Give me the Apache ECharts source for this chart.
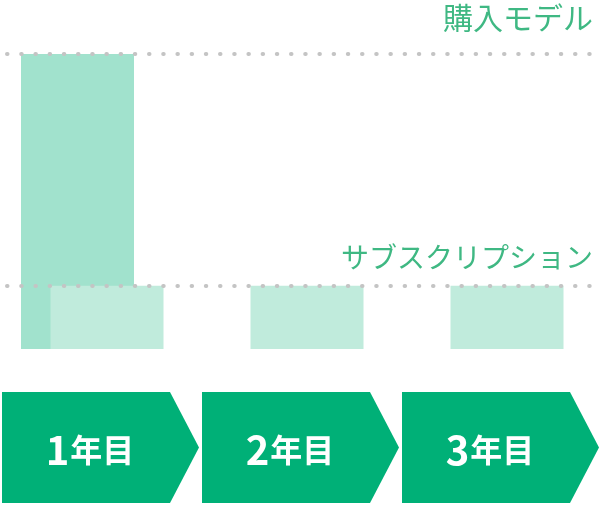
<!DOCTYPE html>
<html>
<head>
<meta charset="utf-8">
<script src="https://cdn.jsdelivr.net/npm/echarts@6/dist/echarts.min.js"></script>
<style>
html,body{margin:0;padding:0;background:#fff;}
#chart{width:606px;height:506px;}
</style>
</head>
<body>
<div id="chart"></div>
<script>
const years = ['1年目', '2年目', '3年目'];
const seriesNames = ['購入モデル', 'サブスクリプション'];
const purchase = [140, null, null];
const subscription = [30, 30, 30];

const FONT = '"Noto Sans CJK JP", "Noto Sans", sans-serif';
const LABEL_GREEN = '#3fb883';

function barRenderer(offset, width, color) {
  return function (params, api) {
    const v = api.value(1);
    if (v == null || isNaN(v)) return null;
    const idx = api.value(0);
    const top = api.coord([idx, v]);
    const base = api.coord([idx, 0]);
    return {
      type: 'rect',
      shape: { x: top[0] + offset - width / 2, y: top[1], width: width, height: base[1] - top[1] },
      style: { fill: color }
    };
  };
}

function chevronRenderer(params, api) {
  const idx = api.value(0);
  const c = api.coord([idx, 0]);
  const band = api.size([1, 0])[0];
  const x0 = c[0] - band / 2 - 1;
  const bodyW = 168, tipW = 29;
  const y0 = c[1] + 43, y1 = c[1] + 154;
  const ym = (y0 + y1) / 2;
  const label = years[idx];
  const m = label.match(/^(\d+)(.*)$/);
  return {
    type: 'group',
    children: [
      {
        type: 'polygon',
        shape: { points: [[x0, y0], [x0 + bodyW, y0], [x0 + bodyW + tipW, ym], [x0 + bodyW, y1], [x0, y1]] },
        style: { fill: '#00b077' }
      },
      {
        type: 'text',
        style: {
          x: x0 + bodyW / 2 + 4,
          y: ym + 2,
          text: '{n|' + m[1] + '}{k|' + m[2] + '}',
          align: 'center',
          verticalAlign: 'middle',
          fill: '#fff',
          rich: {
            n: { fontSize: 40, fontWeight: 'bold', fontFamily: FONT, fill: '#fff', padding: [0, 1, 0, 0] },
            k: { fontSize: 32, fontWeight: 'bold', fontFamily: FONT, fill: '#fff' }
          }
        }
      }
    ]
  };
}

const chart = echarts.init(document.getElementById('chart'), null, { renderer: 'canvas' });
chart.setOption({
  animation: false,
  backgroundColor: '#fff',
  grid: { left: 3, width: 600, top: 54, bottom: 157, containLabel: false },
  xAxis: { type: 'category', data: years, show: false },
  yAxis: { type: 'value', min: 0, max: 140, show: false },
  series: [
    {
      name: seriesNames[0],
      type: 'custom',
      z: 2,
      renderItem: barRenderer(-25.5, 113, '#a1e2cd'),
      encode: { x: 0, y: 1 },
      data: purchase.map((v, i) => [i, v == null ? '-' : v])
    },
    {
      name: seriesNames[1],
      type: 'custom',
      z: 3,
      renderItem: barRenderer(4, 113, '#c0ebdc'),
      encode: { x: 0, y: 1 },
      data: subscription.map((v, i) => [i, v]),
      markLine: {
        silent: true,
        symbol: 'none',
        z: 10,
        lineStyle: { color: '#c4c4c4', width: 4, type: [0.5, 13.7], cap: 'round', dashOffset: 10.2 },
        label: {
          show: true,
          position: 'insideEndTop',
          color: LABEL_GREEN,
          fontSize: 28,
          fontFamily: FONT,
          formatter: p => p.name
        },
        data: [
          { name: seriesNames[0], yAxis: Math.max(...purchase.filter(v => v != null)), label: { distance: [10, 21], fontSize: 30 } },
          { name: seriesNames[1], yAxis: Math.max(...subscription), label: { distance: [10, 14] } }
        ]
      }
    },
    {
      name: 'years',
      type: 'custom',
      z: 4,
      renderItem: chevronRenderer,
      encode: { x: 0, y: 1 },
      data: years.map((y, i) => [i, 0])
    }
  ]
});
</script>
</body>
</html>
